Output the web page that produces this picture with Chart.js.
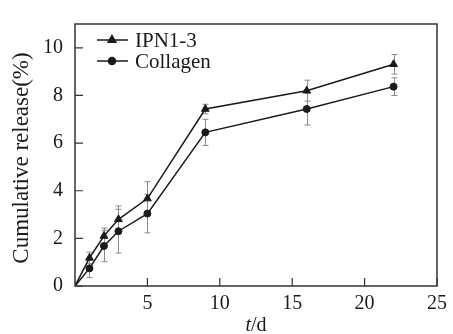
<!DOCTYPE html>
<html><head><meta charset="utf-8">
<script src="https://cdn.jsdelivr.net/npm/chart.js@4"></script>
<style>html,body{margin:0;padding:0;background:#fff}#wrap{width:453px;height:334px}</style>
</head><body><div id="wrap"><canvas id="c" width="453" height="334"></canvas></div>
<script>
const days = [1, 2, 3, 5, 9, 16, 22];
const ipnValues = [1.18, 2.1, 2.8, 3.67, 7.43, 8.2, 9.31];
const ipnErrors = [0.24, 0.33, 0.56, 0.71, 0.2, 0.44, 0.41];
const collagenValues = [0.74, 1.68, 2.3, 3.04, 6.45, 7.43, 8.37];
const collagenErrors = [0.39, 0.66, 0.92, 0.81, 0.55, 0.67, 0.37];
const seriesNames = ['IPN1-3', 'Collagen'];
const xTicks = [5, 10, 15, 20, 25];
const yTicks = [0, 2, 4, 6, 8, 10];
const yTitle = 'Cumulative release(%)';

const FONT = '"Liberation Serif", "Times New Roman", serif';
const INK = '#1a1a1a';

function pts(vals){ return vals.map((v,i)=>({x: days[i] , y: v})); }
function withOrigin(arr){ return [{x:0,y:0}].concat(arr); }

const errPlugin = {
  id: 'extras',
  beforeDatasetsDraw(chart){
    const ctx = chart.ctx, xs = chart.scales.x, ys = chart.scales.y;
    const sets = [[ipnValues, ipnErrors], [collagenValues, collagenErrors]];
    ctx.save();
    ctx.strokeStyle = '#8a8a8a';
    ctx.lineWidth = 1;
    sets.forEach(([vals, errs]) => {
      vals.forEach((v,i)=>{
        const px = Math.round(xs.getPixelForValue(days[i])) + 0.5;
        const top = ys.getPixelForValue(v + errs[i]);
        const bot = ys.getPixelForValue(v - errs[i]);
        ctx.beginPath();
        ctx.moveTo(px, top); ctx.lineTo(px, bot);
        ctx.moveTo(px-3, top); ctx.lineTo(px+3, top);
        ctx.moveTo(px-3, bot); ctx.lineTo(px+3, bot);
        ctx.stroke();
      });
    });
    ctx.restore();
  },
  afterDraw(chart){
    const ctx = chart.ctx, xs = chart.scales.x, ys = chart.scales.y, a = chart.chartArea;
    ctx.save();
    ctx.strokeStyle = '#333';
    ctx.lineWidth = 1.5;
    ctx.strokeRect(a.left, a.top, a.right - a.left, a.bottom - a.top);
    ctx.lineWidth = 1.2;
    ctx.beginPath();
    xTicks.forEach(t=>{ const px = xs.getPixelForValue(t); ctx.moveTo(px, a.bottom); ctx.lineTo(px, a.bottom-8); });
    yTicks.forEach(t=>{ const py = ys.getPixelForValue(t); ctx.moveTo(a.left, py); ctx.lineTo(a.left+8, py); });
    ctx.stroke();
    ctx.fillStyle = INK;
    ctx.font = '23px ' + FONT;
    ctx.textAlign = 'center';
    ctx.textBaseline = 'middle';
    ctx.save();
    ctx.translate(22, 158);
    ctx.rotate(-Math.PI/2);
    ctx.fillText(yTitle, 0, 0);
    ctx.restore();
    const cx = (a.left + a.right)/2;
    ctx.font = 'italic 20px ' + FONT;
    const w1 = ctx.measureText('t').width;
    ctx.font = '20px ' + FONT;
    const w2 = ctx.measureText('/d').width;
    const sx = cx - (w1+w2)/2;
    ctx.textAlign = 'left';
    ctx.font = 'italic 20px ' + FONT;
    ctx.fillText('t', sx, 326);
    ctx.font = '20px ' + FONT;
    ctx.fillText('/d', sx + w1, 326);
    const rows = [[seriesNames[0], 40, 'triangle', 4.5], [seriesNames[1], 61, 'circle', 3.5]];
    rows.forEach(([label, y, style, r])=>{
      ctx.strokeStyle = INK; ctx.lineWidth = 1.5;
      ctx.beginPath(); ctx.moveTo(97, y); ctx.lineTo(128, y); ctx.stroke();
      ctx.fillStyle = INK;
      Chart.helpers.drawPoint(ctx, {pointStyle: style, radius: r, rotation: 0, borderWidth: 1}, 112, y);
      ctx.fill();
      ctx.font = '21px ' + FONT;
      ctx.textAlign = 'left';
      ctx.fillText(label, 135, y + 1);
    });
    ctx.restore();
  }
};

new Chart(document.getElementById('c'), {
  type: 'line',
  data: {
    datasets: [
      { label: seriesNames[0], data: withOrigin(pts(ipnValues)), borderColor: INK, backgroundColor: INK,
        borderWidth: 1.5, pointStyle: 'triangle', pointRadius: ctx => ctx.dataIndex === 0 ? 0 : 4.5, pointBorderWidth: 1 },
      { label: seriesNames[1], data: withOrigin(pts(collagenValues)), borderColor: INK, backgroundColor: INK,
        borderWidth: 1.5, pointStyle: 'circle', pointRadius: ctx => ctx.dataIndex === 0 ? 0 : 3.5, pointBorderWidth: 1 }
    ]
  },
  options: {
    responsive: false, animation: false, devicePixelRatio: 1,
    layout: { padding: { left: 0, top: 12, right: 8, bottom: 0 } },
    plugins: { legend: { display: false }, tooltip: { enabled: false } },
    scales: {
      x: { type: 'linear', min: 0, max: 25,
        afterFit(s){ s.height = 48; },
        afterBuildTicks(s){ s.ticks = xTicks.map(v=>({value:v})); },
        grid: { display: false, drawTicks: false },
        border: { display: false },
        ticks: { color: INK, font: { family: FONT, size: 20 }, padding: 6, maxRotation: 0 } },
      y: { type: 'linear', min: 0, max: 11,
        afterFit(s){ s.width = 75; },
        afterBuildTicks(s){ s.ticks = yTicks.map(v=>({value:v})); },
        grid: { display: false, drawTicks: false },
        border: { display: false },
        ticks: { color: INK, font: { family: FONT, size: 20 }, padding: 12 } }
    }
  },
  plugins: [errPlugin]
});
</script></body></html>
